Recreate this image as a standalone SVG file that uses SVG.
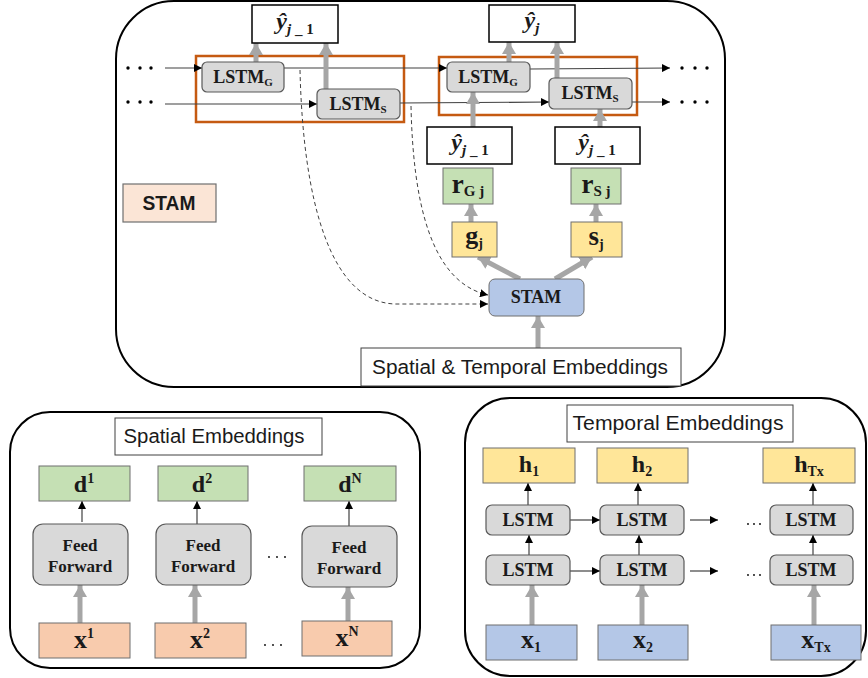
<svg xmlns="http://www.w3.org/2000/svg" width="868" height="678" viewBox="0 0 868 678">
<style>
.panel{fill:#fff;stroke:#000;stroke-width:2}
.gbox{fill:#d9d9d9;stroke:#595959;stroke-width:1.2}
.wbox{fill:#fff;stroke:#000;stroke-width:1.5}
.lbox{fill:#fff;stroke:#404040;stroke-width:1}
.green{fill:#c5e0b4;stroke:#6f6f6f;stroke-width:1}
.yellow{fill:#ffe699;stroke:#6f6f6f;stroke-width:1}
.blue{fill:#b4c7e7;stroke:#6f6f6f;stroke-width:1}
.peach{fill:#f8cbad;stroke:#6f6f6f;stroke-width:1}
.pink{fill:#fbe5d6;stroke:#6f6f6f;stroke-width:1.2}
.orange{fill:none;stroke:#c55a11;stroke-width:2.5}
.sb{font-family:"Liberation Serif","DejaVu Serif",serif;font-weight:bold;fill:#1a1a1a}
.sa{font-family:"Liberation Sans","Noto Sans",sans-serif;fill:#1a1a1a}
.thin{fill:none;stroke:#404040;stroke-width:1.2;marker-end:url(#ah)}
.thk{fill:none;stroke:#a6a6a6;stroke-width:5;marker-end:url(#gh)}
.dash{fill:none;stroke:#404040;stroke-width:1;stroke-dasharray:4 3;marker-end:url(#ah)}
.dot{fill:#000}
</style>
<defs>
<marker id="ah" viewBox="0 0 10 10" refX="10" refY="5" markerWidth="8" markerHeight="8" markerUnits="userSpaceOnUse" orient="auto"><path d="M0,0 L10,5 L0,10 z" fill="#000"/></marker>
<marker id="gh" viewBox="0 0 12 14" refX="12" refY="7" markerWidth="12" markerHeight="15" markerUnits="userSpaceOnUse" orient="auto"><path d="M0,0 L12,7 L0,14 z" fill="#a6a6a6"/></marker>
</defs>

<g id="panel-top"><rect class="panel" x="116" y="1" width="609" height="386" rx="58"/></g>
<g id="panel-spatial"><rect class="panel" x="10" y="412" width="410" height="256" rx="40"/></g>
<g id="panel-temporal"><rect class="panel" x="465" y="398" width="401" height="278" rx="45"/></g>

<g id="orange-boxes">
<rect class="orange" x="196" y="56" width="208" height="66"/>
<rect class="orange" x="439" y="57" width="198" height="58"/>
</g>

<g id="connectors">
<path class="thin" d="M165 68 L202 68"/>
<path class="thin" d="M165 104 L317 104"/>
<path class="thin" d="M284 68 L447 68"/>
<path class="thin" d="M400 103 L549 102"/>
<path class="thin" d="M530 69 L670 68"/>
<path class="thin" d="M632 102 L670 102"/>
<path class="dash" d="M300 70 C303 200 330 302 395 304 L488 304"/>
<path class="dash" d="M411 106 C413 200 430 282 488 295"/>
<path class="thk" d="M256 62 L256 43"/>
<path class="thk" d="M326 89 L326 43"/>
<path class="thk" d="M509 62 L509 42"/>
<path class="thk" d="M557 78 L557 42"/>
<path class="thk" d="M473 127 L473 92"/>
<path class="thk" d="M600 127 L600 109"/>
<path class="thk" d="M471 222 L471 204"/>
<path class="thk" d="M596 222 L596 204"/>
<path class="thk" d="M520 279 L478 257"/>
<path class="thk" d="M555 279 L592 257"/>
<path class="thk" d="M538 348 L538 316"/>
<path class="thk" d="M80 623 L80 585"/>
<path class="thk" d="M195 623 L195 585"/>
<path class="thk" d="M348 621 L348 587"/>
<path class="thin" d="M82 522 L82 501"/>
<path class="thin" d="M197 524 L197 501"/>
<path class="thin" d="M349 526 L349 501"/>
<path class="thk" d="M532 625 L532 585"/>
<path class="thk" d="M642 625 L642 585"/>
<path class="thk" d="M814 625 L814 585"/>
<path class="thin" d="M529 555 L529 535"/>
<path class="thin" d="M639 555 L639 535"/>
<path class="thin" d="M813 555 L813 535"/>
<path class="thin" d="M528 505 L528 483"/>
<path class="thin" d="M638 505 L638 483"/>
<path class="thin" d="M813 505 L813 483"/>
<path class="thin" d="M570 520 L600 520"/>
<path class="thin" d="M690 520 L718 520"/>
<path class="thin" d="M570 571 L600 571"/>
<path class="thin" d="M690 571 L718 571"/>
</g>

<g id="dots">
<circle class="dot" cx="128" cy="68" r="1.7"/><circle class="dot" cx="140" cy="68" r="1.7"/><circle class="dot" cx="151" cy="68" r="1.7"/>
<circle class="dot" cx="128" cy="102" r="1.7"/><circle class="dot" cx="140" cy="102" r="1.7"/><circle class="dot" cx="151" cy="102" r="1.7"/>
<circle class="dot" cx="682" cy="68" r="1.7"/><circle class="dot" cx="695" cy="68" r="1.7"/><circle class="dot" cx="707" cy="68" r="1.7"/>
<circle class="dot" cx="682" cy="102" r="1.7"/><circle class="dot" cx="695" cy="102" r="1.7"/><circle class="dot" cx="707" cy="102" r="1.7"/>
<circle class="dot" cx="269" cy="557" r="0.9"/><circle class="dot" cx="277" cy="557" r="0.9"/><circle class="dot" cx="285" cy="557" r="0.9"/>
<circle class="dot" cx="265" cy="645" r="0.9"/><circle class="dot" cx="273" cy="645" r="0.9"/><circle class="dot" cx="281" cy="645" r="0.9"/>
<circle class="dot" cx="748" cy="524" r="0.9"/><circle class="dot" cx="754" cy="524" r="0.9"/><circle class="dot" cx="760" cy="524" r="0.9"/>
<circle class="dot" cx="748" cy="575" r="0.9"/><circle class="dot" cx="754" cy="575" r="0.9"/><circle class="dot" cx="760" cy="575" r="0.9"/>
</g>

<g id="lstm-g1"><rect class="gbox" x="202" y="62" width="82" height="30" rx="5"/><text class="sb" x="243" y="83" font-size="18" text-anchor="middle">LSTM<tspan font-size="11" dy="3">G</tspan></text></g>
<g id="lstm-s1"><rect class="gbox" x="317" y="89" width="83" height="30" rx="5"/><text class="sb" x="358" y="110" font-size="18" text-anchor="middle">LSTM<tspan font-size="11" dy="3">S</tspan></text></g>
<g id="lstm-g2"><rect class="gbox" x="447" y="62" width="83" height="30" rx="5"/><text class="sb" x="488" y="83" font-size="18" text-anchor="middle">LSTM<tspan font-size="11" dy="3">G</tspan></text></g>
<g id="lstm-s2"><rect class="gbox" x="549" y="78" width="83" height="31" rx="5"/><text class="sb" x="590" y="99" font-size="18" text-anchor="middle">LSTM<tspan font-size="11" dy="3">S</tspan></text></g>

<g id="yhat-top1"><rect class="wbox" x="252" y="5" width="86" height="38"/><text class="sb" x="295" y="29" font-size="24" text-anchor="middle"><tspan font-style="italic">ŷ</tspan><tspan font-size="15" dy="5" font-style="italic">j</tspan><tspan font-size="15"> _ 1</tspan></text></g>
<g id="yhat-top2"><rect class="wbox" x="489" y="5" width="86" height="37"/><text class="sb" x="532" y="28" font-size="24" text-anchor="middle"><tspan font-style="italic">ŷ</tspan><tspan font-size="15" dy="5" font-style="italic">j</tspan></text></g>
<g id="yhat-mid1"><rect class="wbox" x="427" y="127" width="85" height="37"/><text class="sb" x="470" y="150" font-size="24" text-anchor="middle"><tspan font-style="italic">ŷ</tspan><tspan font-size="15" dy="5" font-style="italic">j</tspan><tspan font-size="15"> _ 1</tspan></text></g>
<g id="yhat-mid2"><rect class="wbox" x="555" y="127" width="85" height="37"/><text class="sb" x="597" y="150" font-size="24" text-anchor="middle"><tspan font-style="italic">ŷ</tspan><tspan font-size="15" dy="5" font-style="italic">j</tspan><tspan font-size="15"> _ 1</tspan></text></g>

<g id="r-g"><rect class="green" x="443" y="168" width="50" height="36"/><text class="sb" x="468" y="193" font-size="27" text-anchor="middle">r<tspan font-size="15" dy="3">G j</tspan></text></g>
<g id="r-s"><rect class="green" x="571" y="168" width="50" height="36"/><text class="sb" x="596" y="193" font-size="27" text-anchor="middle">r<tspan font-size="15" dy="3">S j</tspan></text></g>
<g id="g-j"><rect class="yellow" x="452" y="222" width="45" height="35"/><text class="sb" x="474" y="244" font-size="26" text-anchor="middle">g<tspan font-size="14" dy="4">j</tspan></text></g>
<g id="s-j"><rect class="yellow" x="571" y="222" width="51" height="35"/><text class="sb" x="596" y="245" font-size="27" text-anchor="middle">s<tspan font-size="14" dy="4">j</tspan></text></g>

<g id="stam"><rect class="blue" x="489" y="279" width="95" height="37" rx="6"/><text class="sb" x="536" y="303" font-size="18" text-anchor="middle">STAM</text></g>
<g id="stam-label"><rect class="pink" x="123" y="184" width="93" height="38"/><text class="sa" x="169" y="210" font-size="20" font-weight="bold" text-anchor="middle" textLength="53" lengthAdjust="spacingAndGlyphs">STAM</text></g>
<g id="st-emb"><rect class="lbox" x="361" y="348" width="320" height="38"/><text class="sa" x="520" y="374" font-size="20" text-anchor="middle" textLength="296" lengthAdjust="spacingAndGlyphs">Spatial &amp; Temporal Embeddings</text></g>

<g id="spatial-label"><rect class="lbox" x="115" y="418" width="207" height="37"/><text class="sa" x="214" y="443" font-size="20" text-anchor="middle" textLength="181" lengthAdjust="spacingAndGlyphs">Spatial Embeddings</text></g>
<g id="d1"><rect class="green" x="39" y="466" width="91" height="35"/><text class="sb" x="84" y="492" font-size="24" text-anchor="middle">d<tspan font-size="14" dy="-9">1</tspan></text></g>
<g id="d2"><rect class="green" x="158" y="466" width="90" height="35"/><text class="sb" x="202" y="492" font-size="24" text-anchor="middle">d<tspan font-size="14" dy="-9">2</tspan></text></g>
<g id="dN"><rect class="green" x="304" y="466" width="92" height="35"/><text class="sb" x="350" y="492" font-size="24" text-anchor="middle">d<tspan font-size="14" dy="-9">N</tspan></text></g>
<g id="ff1"><rect class="gbox" x="33" y="524" width="95" height="61" rx="10"/><text class="sb" x="80" y="551" font-size="17" text-anchor="middle">Feed</text><text class="sb" x="80" y="572" font-size="17" text-anchor="middle">Forward</text></g>
<g id="ff2"><rect class="gbox" x="156" y="524" width="95" height="61" rx="10"/><text class="sb" x="203" y="551" font-size="17" text-anchor="middle">Feed</text><text class="sb" x="203" y="572" font-size="17" text-anchor="middle">Forward</text></g>
<g id="ffN"><rect class="gbox" x="302" y="526" width="95" height="61" rx="10"/><text class="sb" x="349" y="553" font-size="17" text-anchor="middle">Feed</text><text class="sb" x="349" y="574" font-size="17" text-anchor="middle">Forward</text></g>
<g id="x1"><rect class="peach" x="39" y="623" width="91" height="35"/><text class="sb" x="84" y="648" font-size="26" text-anchor="middle">x<tspan font-size="14" dy="-10">1</tspan></text></g>
<g id="x2"><rect class="peach" x="155" y="623" width="91" height="35"/><text class="sb" x="200" y="648" font-size="26" text-anchor="middle">x<tspan font-size="14" dy="-10">2</tspan></text></g>
<g id="xN"><rect class="peach" x="302" y="621" width="90" height="35"/><text class="sb" x="347" y="646" font-size="26" text-anchor="middle">x<tspan font-size="14" dy="-10">N</tspan></text></g>

<g id="temporal-label"><rect class="lbox" x="567" y="405" width="226" height="37"/><text class="sa" x="678" y="430" font-size="20" text-anchor="middle" textLength="211" lengthAdjust="spacingAndGlyphs">Temporal Embeddings</text></g>
<g id="h1"><rect class="yellow" x="483" y="448" width="92" height="35"/><text class="sb" x="529" y="472" font-size="24" text-anchor="middle">h<tspan font-size="14" dy="4">1</tspan></text></g>
<g id="h2"><rect class="yellow" x="597" y="448" width="91" height="35"/><text class="sb" x="642" y="472" font-size="24" text-anchor="middle">h<tspan font-size="14" dy="4">2</tspan></text></g>
<g id="hTx"><rect class="yellow" x="763" y="448" width="92" height="35"/><text class="sb" x="809" y="472" font-size="24" text-anchor="middle">h<tspan font-size="14" dy="4">Tx</tspan></text></g>
<g id="lstm-t1"><rect class="gbox" x="486" y="505" width="84" height="30" rx="6"/><text class="sb" x="528" y="526" font-size="18" text-anchor="middle">LSTM</text></g>
<g id="lstm-t2"><rect class="gbox" x="600" y="505" width="84" height="30" rx="6"/><text class="sb" x="642" y="526" font-size="18" text-anchor="middle">LSTM</text></g>
<g id="lstm-t3"><rect class="gbox" x="770" y="505" width="83" height="30" rx="6"/><text class="sb" x="811" y="526" font-size="18" text-anchor="middle">LSTM</text></g>
<g id="lstm-b1"><rect class="gbox" x="486" y="555" width="84" height="30" rx="6"/><text class="sb" x="528" y="576" font-size="18" text-anchor="middle">LSTM</text></g>
<g id="lstm-b2"><rect class="gbox" x="600" y="555" width="84" height="30" rx="6"/><text class="sb" x="642" y="576" font-size="18" text-anchor="middle">LSTM</text></g>
<g id="lstm-b3"><rect class="gbox" x="770" y="555" width="83" height="30" rx="6"/><text class="sb" x="811" y="576" font-size="18" text-anchor="middle">LSTM</text></g>
<g id="xt1"><rect class="blue" x="486" y="625" width="91" height="35"/><text class="sb" x="531" y="648" font-size="26" text-anchor="middle">x<tspan font-size="14" dy="4">1</tspan></text></g>
<g id="xt2"><rect class="blue" x="598" y="625" width="90" height="35"/><text class="sb" x="643" y="648" font-size="26" text-anchor="middle">x<tspan font-size="14" dy="4">2</tspan></text></g>
<g id="xtTx"><rect class="blue" x="771" y="625" width="90" height="35"/><text class="sb" x="816" y="648" font-size="26" text-anchor="middle">x<tspan font-size="14" dy="4">Tx</tspan></text></g>
</svg>
